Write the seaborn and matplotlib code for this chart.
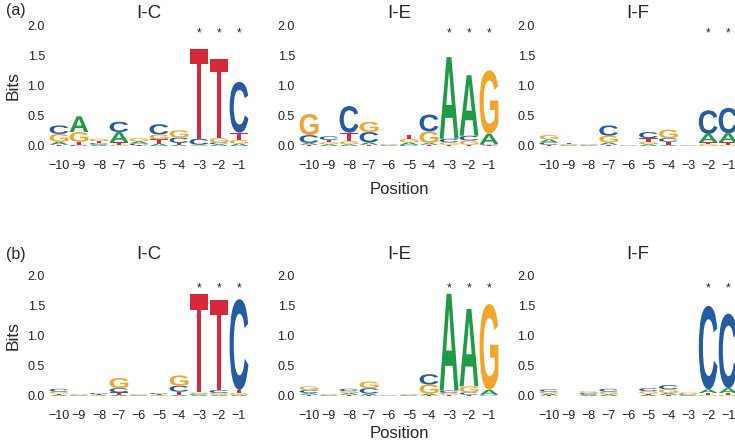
import numpy as np
import matplotlib
matplotlib.use("Agg")
import matplotlib.pyplot as plt
import seaborn as sns
from matplotlib.textpath import TextPath
from matplotlib.patches import PathPatch
from matplotlib.font_manager import FontProperties
from matplotlib.transforms import Affine2D

# 위치 (-10 ~ -1)
positions = list(range(-10, 0))
letters = ["A", "C", "G", "T"]
letter_colors = {"A": "#1f9a45", "C": "#245c9f", "G": "#f2a52b", "T": "#d8283b"}
titles = ["I-C", "I-E", "I-F"]

# (a) 행
a_ic = {"A": [0.05, 0.26, 0.02, 0.17, 0.04, 0.04, 0.02, 0.01, 0.03, 0.04],
        "C": [0.14, 0.02, 0.03, 0.17, 0.03, 0.17, 0.09, 0.10, 0.03, 0.84],
        "G": [0.13, 0.16, 0.04, 0.02, 0.05, 0.08, 0.12, 0.01, 0.07, 0.06],
        "T": [0.02, 0.05, 0.03, 0.04, 0.01, 0.07, 0.03, 1.48, 1.30, 0.12]}
a_ie = {"A": [0.03, 0.03, 0.03, 0.04, 0.01, 0.04, 0.03, 1.35, 1.00, 0.17],
        "C": [0.13, 0.06, 0.44, 0.17, 0.01, 0.02, 0.28, 0.06, 0.08, 0.02],
        "G": [0.35, 0.03, 0.05, 0.17, 0.01, 0.06, 0.19, 0.04, 0.07, 1.05],
        "T": [0.02, 0.04, 0.14, 0.02, 0.01, 0.07, 0.02, 0.02, 0.02, 0.01]}
a_if = {"A": [0.05, 0.01, 0.01, 0.04, 0.005, 0.03, 0.02, 0.005, 0.14, 0.15],
        "C": [0.04, 0.01, 0.01, 0.17, 0.005, 0.10, 0.06, 0.005, 0.39, 0.42],
        "G": [0.07, 0.01, 0.01, 0.11, 0.005, 0.04, 0.14, 0.005, 0.03, 0.02],
        "T": [0.02, 0.02, 0.01, 0.02, 0.005, 0.06, 0.05, 0.005, 0.03, 0.04]}

# (b) 행
b_ic = {"A": [0.02, 0.01, 0.01, 0.02, 0.01, 0.01, 0.02, 0.02, 0.02, 0.02],
        "C": [0.05, 0.01, 0.02, 0.07, 0.01, 0.02, 0.10, 0.02, 0.05, 1.50],
        "G": [0.03, 0.01, 0.01, 0.17, 0.01, 0.01, 0.17, 0.02, 0.03, 0.03],
        "T": [0.02, 0.01, 0.01, 0.04, 0.01, 0.01, 0.05, 1.62, 1.48, 0.05]}
b_ie = {"A": [0.03, 0.01, 0.03, 0.03, 0.005, 0.01, 0.03, 1.60, 1.28, 0.08],
        "C": [0.05, 0.01, 0.04, 0.09, 0.005, 0.01, 0.17, 0.04, 0.04, 0.01],
        "G": [0.06, 0.01, 0.03, 0.11, 0.005, 0.01, 0.15, 0.03, 0.10, 1.42],
        "T": [0.02, 0.01, 0.02, 0.01, 0.005, 0.01, 0.01, 0.02, 0.02, 0.01]}
b_if = {"A": [0.03, 0.0, 0.02, 0.03, 0.0, 0.02, 0.03, 0.01, 0.06, 0.08],
        "C": [0.04, 0.0, 0.03, 0.05, 0.0, 0.05, 0.07, 0.02, 1.38, 1.23],
        "G": [0.03, 0.0, 0.03, 0.04, 0.0, 0.04, 0.06, 0.03, 0.02, 0.02],
        "T": [0.01, 0.0, 0.0, 0.0, 0.0, 0.02, 0.02, 0.0, 0.03, 0.03]}

# 별표 위치
star_ic = [-3, -2, -1]
star_ie = [-3, -2, -1]
star_if = [-2, -1]

sns.set_style("white")
plt.rcParams["font.family"] = ["Liberation Sans", "DejaVu Sans"]

glyph_font = FontProperties(family="Liberation Sans", weight="bold")


def draw_letter(ax, ch, x, y0, h, width=0.94):
    path = TextPath((0, 0), ch, size=1, prop=glyph_font)
    bb = path.get_extents()
    tr = (Affine2D().translate(-bb.x0, -bb.y0)
          .scale(width / bb.width, h / bb.height)
          .translate(x - width / 2, y0))
    ax.add_patch(PathPatch(tr.transform_path(path), facecolor=letter_colors[ch],
                           edgecolor="none", lw=0))


def draw_logo(ax, mat):
    for i, pos in enumerate(positions):
        hs = sorted([(mat[l][i], l) for l in letters])
        y = 0.0
        for h, l in hs:
            if h <= 0:
                continue
            draw_letter(ax, l, pos, y, h)
            y += h


fig = plt.figure(figsize=(7.35, 4.43), dpi=100)
lefts = [49 / 735, 299 / 735, 539 / 735]
widths = [200 / 735, 200 / 735, 197 / 735]
rows = [(297 / 443, [a_ic, a_ie, a_if], 1.86, 5, 7),
        (47 / 443, [b_ic, b_ie, b_if], 1.78, 11.5, 3)]
stars = [star_ic, star_ie, star_if]

for r, (bottom, mats, star_y, tpad, xpad) in enumerate(rows):
    for c in range(3):
        ax = fig.add_axes([lefts[c], bottom, widths[c], 121 / 443])
        draw_logo(ax, mats[c])
        for s in stars[c]:
            ax.text(s, star_y, "*", ha="center", va="center", fontsize=8.5, color="#222222")
        ax.set_xlim(-10.5, -0.5 if c < 2 else -0.6)
        ax.set_ylim(0, 2.0)
        ax.set_xticks(positions)
        ax.set_yticks([0, 0.5, 1.0, 1.5, 2.0])
        ax.set_yticklabels(["0.0", "0.5", "1.0", "1.5", "2.0"])
        ax.tick_params(axis="x", length=0, pad=10, labelsize=9, colors="#222222")
        ax.tick_params(axis="y", length=0, pad=3, labelsize=9, colors="#222222")
        sns.despine(ax=ax, left=True, bottom=True)
        ax.set_title(titles[c], fontsize=13.5, pad=tpad)
        if c == 0:
            ax.set_ylabel("Bits", fontsize=12.5, labelpad=5)
        if c == 1:
            ax.set_xlabel("Position", fontsize=12, labelpad=xpad)

fig.text(6 / 735, 1 - 11 / 443, "(a)", fontsize=11.5, va="center", ha="left")
fig.text(6 / 735, 1 - 255 / 443, "(b)", fontsize=11.5, va="center", ha="left")

plt.savefig("out.png", dpi=100)
